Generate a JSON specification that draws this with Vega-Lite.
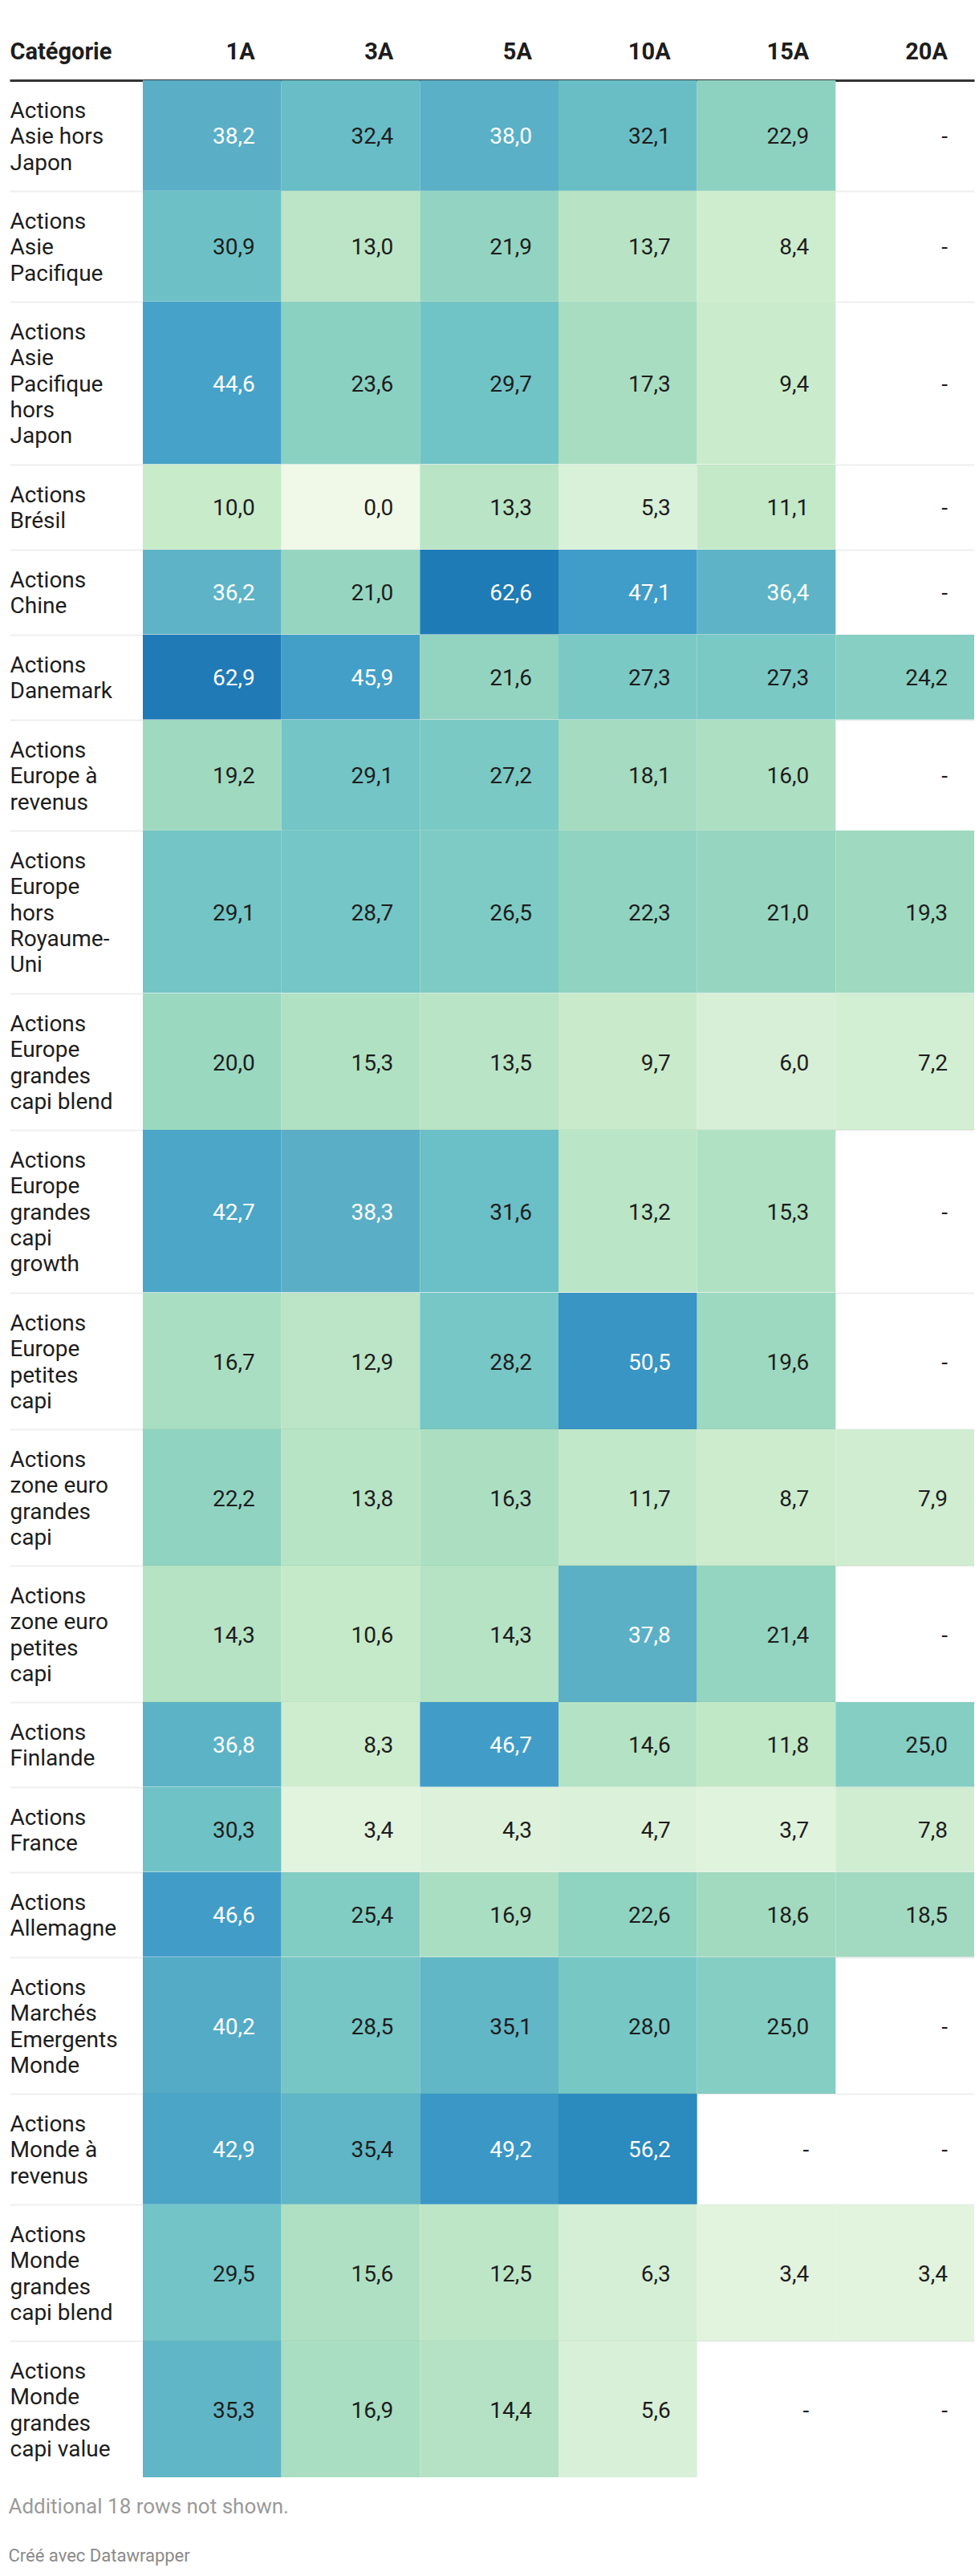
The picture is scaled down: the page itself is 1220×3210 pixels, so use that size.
{
"$schema": "https://vega.github.io/schema/vega-lite/v6.json",
"background": "white",
"padding": {"left": 10, "top": 30, "right": 8, "bottom": 10},
"spacing": 0,
"bounds": "flush",
"resolve": {"scale": {"x": "independent", "y": "independent", "color": "independent"}},
"title": {"text": "Additional 18 rows not shown.", "subtitle": "Créé avec Datawrapper", "orient": "bottom", "anchor": "start", "frame": "bounds", "font": "Roboto", "fontSize": 26, "fontWeight": "normal", "color": "#9a9a9a", "subtitleFont": "Roboto", "subtitleFontSize": 22, "subtitleColor": "#8a8a8a", "offset": 24, "subtitlePadding": 38},
"config": {
  "view": {"stroke": null, "fill": "white"},
  "locale": {"number": {"decimal": ",", "thousands": " ", "grouping": [3], "currency": ["", " €"]}},
  "text": {"font": "Roboto"},
  "axisY": {"domain": false, "ticks": true, "tickSize": 166, "tickBand": "extent", "grid": true, "gridWidth": 2, "tickWidth": 2, "gridColor": "rgba(0,0,0,0.067)", "tickColor": "rgba(0,0,0,0.067)", "labelAlign": "left", "labelBaseline": "middle", "labelPadding": 0, "labelFont": "Roboto", "labelFontSize": 28, "labelColor": "#1d1d1d", "labelLineHeight": 32.2, "labelLimit": 400, "zindex": 1, "minExtent": 0, "maxExtent": 400, "labelOverlap": false, "labelBound": false}
},
"datasets": {"t": [
{"c":"Actions Asie hors Japon","p":"1A","v":38.2},{"c":"Actions Asie hors Japon","p":"3A","v":32.4},{"c":"Actions Asie hors Japon","p":"5A","v":38.0},{"c":"Actions Asie hors Japon","p":"10A","v":32.1},{"c":"Actions Asie hors Japon","p":"15A","v":22.9},{"c":"Actions Asie hors Japon","p":"20A","v":null},
{"c":"Actions Asie Pacifique","p":"1A","v":30.9},{"c":"Actions Asie Pacifique","p":"3A","v":13.0},{"c":"Actions Asie Pacifique","p":"5A","v":21.9},{"c":"Actions Asie Pacifique","p":"10A","v":13.7},{"c":"Actions Asie Pacifique","p":"15A","v":8.4},{"c":"Actions Asie Pacifique","p":"20A","v":null},
{"c":"Actions Asie Pacifique hors Japon","p":"1A","v":44.6},{"c":"Actions Asie Pacifique hors Japon","p":"3A","v":23.6},{"c":"Actions Asie Pacifique hors Japon","p":"5A","v":29.7},{"c":"Actions Asie Pacifique hors Japon","p":"10A","v":17.3},{"c":"Actions Asie Pacifique hors Japon","p":"15A","v":9.4},{"c":"Actions Asie Pacifique hors Japon","p":"20A","v":null},
{"c":"Actions Brésil","p":"1A","v":10.0},{"c":"Actions Brésil","p":"3A","v":0.0},{"c":"Actions Brésil","p":"5A","v":13.3},{"c":"Actions Brésil","p":"10A","v":5.3},{"c":"Actions Brésil","p":"15A","v":11.1},{"c":"Actions Brésil","p":"20A","v":null},
{"c":"Actions Chine","p":"1A","v":36.2},{"c":"Actions Chine","p":"3A","v":21.0},{"c":"Actions Chine","p":"5A","v":62.6},{"c":"Actions Chine","p":"10A","v":47.1},{"c":"Actions Chine","p":"15A","v":36.4},{"c":"Actions Chine","p":"20A","v":null},
{"c":"Actions Danemark","p":"1A","v":62.9},{"c":"Actions Danemark","p":"3A","v":45.9},{"c":"Actions Danemark","p":"5A","v":21.6},{"c":"Actions Danemark","p":"10A","v":27.3},{"c":"Actions Danemark","p":"15A","v":27.3},{"c":"Actions Danemark","p":"20A","v":24.2},
{"c":"Actions Europe à revenus","p":"1A","v":19.2},{"c":"Actions Europe à revenus","p":"3A","v":29.1},{"c":"Actions Europe à revenus","p":"5A","v":27.2},{"c":"Actions Europe à revenus","p":"10A","v":18.1},{"c":"Actions Europe à revenus","p":"15A","v":16.0},{"c":"Actions Europe à revenus","p":"20A","v":null},
{"c":"Actions Europe hors Royaume-Uni","p":"1A","v":29.1},{"c":"Actions Europe hors Royaume-Uni","p":"3A","v":28.7},{"c":"Actions Europe hors Royaume-Uni","p":"5A","v":26.5},{"c":"Actions Europe hors Royaume-Uni","p":"10A","v":22.3},{"c":"Actions Europe hors Royaume-Uni","p":"15A","v":21.0},{"c":"Actions Europe hors Royaume-Uni","p":"20A","v":19.3},
{"c":"Actions Europe grandes capi blend","p":"1A","v":20.0},{"c":"Actions Europe grandes capi blend","p":"3A","v":15.3},{"c":"Actions Europe grandes capi blend","p":"5A","v":13.5},{"c":"Actions Europe grandes capi blend","p":"10A","v":9.7},{"c":"Actions Europe grandes capi blend","p":"15A","v":6.0},{"c":"Actions Europe grandes capi blend","p":"20A","v":7.2},
{"c":"Actions Europe grandes capi growth","p":"1A","v":42.7},{"c":"Actions Europe grandes capi growth","p":"3A","v":38.3},{"c":"Actions Europe grandes capi growth","p":"5A","v":31.6},{"c":"Actions Europe grandes capi growth","p":"10A","v":13.2},{"c":"Actions Europe grandes capi growth","p":"15A","v":15.3},{"c":"Actions Europe grandes capi growth","p":"20A","v":null},
{"c":"Actions Europe petites capi","p":"1A","v":16.7},{"c":"Actions Europe petites capi","p":"3A","v":12.9},{"c":"Actions Europe petites capi","p":"5A","v":28.2},{"c":"Actions Europe petites capi","p":"10A","v":50.5},{"c":"Actions Europe petites capi","p":"15A","v":19.6},{"c":"Actions Europe petites capi","p":"20A","v":null},
{"c":"Actions zone euro grandes capi","p":"1A","v":22.2},{"c":"Actions zone euro grandes capi","p":"3A","v":13.8},{"c":"Actions zone euro grandes capi","p":"5A","v":16.3},{"c":"Actions zone euro grandes capi","p":"10A","v":11.7},{"c":"Actions zone euro grandes capi","p":"15A","v":8.7},{"c":"Actions zone euro grandes capi","p":"20A","v":7.9},
{"c":"Actions zone euro petites capi","p":"1A","v":14.3},{"c":"Actions zone euro petites capi","p":"3A","v":10.6},{"c":"Actions zone euro petites capi","p":"5A","v":14.3},{"c":"Actions zone euro petites capi","p":"10A","v":37.8},{"c":"Actions zone euro petites capi","p":"15A","v":21.4},{"c":"Actions zone euro petites capi","p":"20A","v":null},
{"c":"Actions Finlande","p":"1A","v":36.8},{"c":"Actions Finlande","p":"3A","v":8.3},{"c":"Actions Finlande","p":"5A","v":46.7},{"c":"Actions Finlande","p":"10A","v":14.6},{"c":"Actions Finlande","p":"15A","v":11.8},{"c":"Actions Finlande","p":"20A","v":25.0},
{"c":"Actions France","p":"1A","v":30.3},{"c":"Actions France","p":"3A","v":3.4},{"c":"Actions France","p":"5A","v":4.3},{"c":"Actions France","p":"10A","v":4.7},{"c":"Actions France","p":"15A","v":3.7},{"c":"Actions France","p":"20A","v":7.8},
{"c":"Actions Allemagne","p":"1A","v":46.6},{"c":"Actions Allemagne","p":"3A","v":25.4},{"c":"Actions Allemagne","p":"5A","v":16.9},{"c":"Actions Allemagne","p":"10A","v":22.6},{"c":"Actions Allemagne","p":"15A","v":18.6},{"c":"Actions Allemagne","p":"20A","v":18.5},
{"c":"Actions Marchés Emergents Monde","p":"1A","v":40.2},{"c":"Actions Marchés Emergents Monde","p":"3A","v":28.5},{"c":"Actions Marchés Emergents Monde","p":"5A","v":35.1},{"c":"Actions Marchés Emergents Monde","p":"10A","v":28.0},{"c":"Actions Marchés Emergents Monde","p":"15A","v":25.0},{"c":"Actions Marchés Emergents Monde","p":"20A","v":null},
{"c":"Actions Monde à revenus","p":"1A","v":42.9},{"c":"Actions Monde à revenus","p":"3A","v":35.4},{"c":"Actions Monde à revenus","p":"5A","v":49.2},{"c":"Actions Monde à revenus","p":"10A","v":56.2},{"c":"Actions Monde à revenus","p":"15A","v":null},{"c":"Actions Monde à revenus","p":"20A","v":null},
{"c":"Actions Monde grandes capi blend","p":"1A","v":29.5},{"c":"Actions Monde grandes capi blend","p":"3A","v":15.6},{"c":"Actions Monde grandes capi blend","p":"5A","v":12.5},{"c":"Actions Monde grandes capi blend","p":"10A","v":6.3},{"c":"Actions Monde grandes capi blend","p":"15A","v":3.4},{"c":"Actions Monde grandes capi blend","p":"20A","v":3.4},
{"c":"Actions Monde grandes capi value","p":"1A","v":35.3},{"c":"Actions Monde grandes capi value","p":"3A","v":16.9},{"c":"Actions Monde grandes capi value","p":"5A","v":14.4},{"c":"Actions Monde grandes capi value","p":"10A","v":5.6},{"c":"Actions Monde grandes capi value","p":"15A","v":null},{"c":"Actions Monde grandes capi value","p":"20A","v":null}
]},
"data": {"name": "t"},
"vconcat": [
{"height": 70, "width": 1036, "transform": [{"filter": {"field": "c", "equal": "Actions Asie hors Japon"}}],
 "mark": {"type": "text", "align": "right", "baseline": "middle", "dx": 53.3, "font": "Roboto", "fontSize": 29, "fontWeight": "bold", "color": "#1d1d1d"},
 "encoding": {"x": {"field": "p", "type": "nominal", "scale": {"domain": ["1A","3A","5A","10A","15A","20A"], "paddingInner": 0, "paddingOuter": 0}, "axis": null},
  "y": {"datum": "Catégorie", "type": "nominal", "title": null, "axis": {"ticks": false, "tickBand": "center", "grid": false, "labelPadding": 166, "labelFontWeight": "bold", "labelFontSize": 29, "labelOffset": 0}},
  "text": {"field": "p"}}},

{"height": 137.8, "width": 1036, "transform": [{"filter": {"field": "c", "equal": "Actions Asie hors Japon"}}],
 "encoding": {"x": {"field": "p", "type": "nominal", "scale": {"domain": ["1A","3A","5A","10A","15A","20A"], "paddingInner": 0, "paddingOuter": 0}, "axis": null},
  "y": {"field": "c", "type": "nominal", "title": null, "axis": {"labelOffset": -30.2, "labelExpr": "datum.extra ? '' : ['Actions','Asie hors','Japon']", "gridColor": "#333333", "tickColor": "#333333", "gridWidth": 3, "tickWidth": 3, "gridOpacity": {"condition": {"test": "datum.extra", "value": 1}, "value": 0}, "tickOpacity": {"condition": {"test": "datum.extra", "value": 1}, "value": 0}}}},
 "layer": [
  {"transform": [{"filter": "isValid(datum.v)"}], "mark": {"type": "rect"}, "encoding": {"color": {"field": "v", "type": "quantitative", "legend": null, "scale": {"type": "linear", "domain": [0,5.3,10,19.2,29.1,38.2,47.1,56.2,62.9], "range": ["#f0f9e8","#d9f0d9","#c8ebca","#9fd9c0","#73c5c6","#5aafc6","#409cc8","#2b8abe","#1f7ab6"]}}}},
  {"mark": {"type": "text", "align": "right", "baseline": "middle", "dx": 53.3, "dy": 2.5, "font": "Roboto", "fontSize": 28}, "encoding": {"text": {"condition": {"test": "!isValid(datum.v)", "value": "-"}, "field": "v", "type": "quantitative", "format": ".1f"}, "color": {"condition": {"test": "datum.v >= 36", "value": "#ffffff"}, "value": "#1d1d1d"}}}
 ]},

{"height": 137.8, "width": 1036, "transform": [{"filter": {"field": "c", "equal": "Actions Asie Pacifique"}}],
 "encoding": {"x": {"field": "p", "type": "nominal", "scale": {"domain": ["1A","3A","5A","10A","15A","20A"], "paddingInner": 0, "paddingOuter": 0}, "axis": null},
  "y": {"field": "c", "type": "nominal", "title": null, "axis": {"labelOffset": -30.2, "labelExpr": "datum.extra ? '' : ['Actions','Asie','Pacifique']", "gridOpacity": {"condition": {"test": "datum.extra", "value": 1}, "value": 0}, "tickOpacity": {"condition": {"test": "datum.extra", "value": 1}, "value": 0}}}},
 "layer": [
  {"transform": [{"filter": "isValid(datum.v)"}], "mark": {"type": "rect"}, "encoding": {"color": {"field": "v", "type": "quantitative", "legend": null, "scale": {"type": "linear", "domain": [0,5.3,10,19.2,29.1,38.2,47.1,56.2,62.9], "range": ["#f0f9e8","#d9f0d9","#c8ebca","#9fd9c0","#73c5c6","#5aafc6","#409cc8","#2b8abe","#1f7ab6"]}}}},
  {"mark": {"type": "text", "align": "right", "baseline": "middle", "dx": 53.3, "dy": 2.5, "font": "Roboto", "fontSize": 28}, "encoding": {"text": {"condition": {"test": "!isValid(datum.v)", "value": "-"}, "field": "v", "type": "quantitative", "format": ".1f"}, "color": {"condition": {"test": "datum.v >= 36", "value": "#ffffff"}, "value": "#1d1d1d"}}}
 ]},

{"height": 202.2, "width": 1036, "transform": [{"filter": {"field": "c", "equal": "Actions Asie Pacifique hors Japon"}}],
 "encoding": {"x": {"field": "p", "type": "nominal", "scale": {"domain": ["1A","3A","5A","10A","15A","20A"], "paddingInner": 0, "paddingOuter": 0}, "axis": null},
  "y": {"field": "c", "type": "nominal", "title": null, "axis": {"labelOffset": -62.4, "labelExpr": "datum.extra ? '' : ['Actions','Asie','Pacifique','hors','Japon']", "gridOpacity": {"condition": {"test": "datum.extra", "value": 1}, "value": 0}, "tickOpacity": {"condition": {"test": "datum.extra", "value": 1}, "value": 0}}}},
 "layer": [
  {"transform": [{"filter": "isValid(datum.v)"}], "mark": {"type": "rect"}, "encoding": {"color": {"field": "v", "type": "quantitative", "legend": null, "scale": {"type": "linear", "domain": [0,5.3,10,19.2,29.1,38.2,47.1,56.2,62.9], "range": ["#f0f9e8","#d9f0d9","#c8ebca","#9fd9c0","#73c5c6","#5aafc6","#409cc8","#2b8abe","#1f7ab6"]}}}},
  {"mark": {"type": "text", "align": "right", "baseline": "middle", "dx": 53.3, "dy": 2.5, "font": "Roboto", "fontSize": 28}, "encoding": {"text": {"condition": {"test": "!isValid(datum.v)", "value": "-"}, "field": "v", "type": "quantitative", "format": ".1f"}, "color": {"condition": {"test": "datum.v >= 36", "value": "#ffffff"}, "value": "#1d1d1d"}}}
 ]},

{"height": 105.6, "width": 1036, "transform": [{"filter": {"field": "c", "equal": "Actions Brésil"}}],
 "encoding": {"x": {"field": "p", "type": "nominal", "scale": {"domain": ["1A","3A","5A","10A","15A","20A"], "paddingInner": 0, "paddingOuter": 0}, "axis": null},
  "y": {"field": "c", "type": "nominal", "title": null, "axis": {"labelOffset": -14.1, "labelExpr": "datum.extra ? '' : ['Actions','Brésil']", "gridOpacity": {"condition": {"test": "datum.extra", "value": 1}, "value": 0}, "tickOpacity": {"condition": {"test": "datum.extra", "value": 1}, "value": 0}}}},
 "layer": [
  {"transform": [{"filter": "isValid(datum.v)"}], "mark": {"type": "rect"}, "encoding": {"color": {"field": "v", "type": "quantitative", "legend": null, "scale": {"type": "linear", "domain": [0,5.3,10,19.2,29.1,38.2,47.1,56.2,62.9], "range": ["#f0f9e8","#d9f0d9","#c8ebca","#9fd9c0","#73c5c6","#5aafc6","#409cc8","#2b8abe","#1f7ab6"]}}}},
  {"mark": {"type": "text", "align": "right", "baseline": "middle", "dx": 53.3, "dy": 2.5, "font": "Roboto", "fontSize": 28}, "encoding": {"text": {"condition": {"test": "!isValid(datum.v)", "value": "-"}, "field": "v", "type": "quantitative", "format": ".1f"}, "color": {"condition": {"test": "datum.v >= 36", "value": "#ffffff"}, "value": "#1d1d1d"}}}
 ]},

{"height": 105.6, "width": 1036, "transform": [{"filter": {"field": "c", "equal": "Actions Chine"}}],
 "encoding": {"x": {"field": "p", "type": "nominal", "scale": {"domain": ["1A","3A","5A","10A","15A","20A"], "paddingInner": 0, "paddingOuter": 0}, "axis": null},
  "y": {"field": "c", "type": "nominal", "title": null, "axis": {"labelOffset": -14.1, "labelExpr": "datum.extra ? '' : ['Actions','Chine']", "gridOpacity": {"condition": {"test": "datum.extra", "value": 1}, "value": 0}, "tickOpacity": {"condition": {"test": "datum.extra", "value": 1}, "value": 0}}}},
 "layer": [
  {"transform": [{"filter": "isValid(datum.v)"}], "mark": {"type": "rect"}, "encoding": {"color": {"field": "v", "type": "quantitative", "legend": null, "scale": {"type": "linear", "domain": [0,5.3,10,19.2,29.1,38.2,47.1,56.2,62.9], "range": ["#f0f9e8","#d9f0d9","#c8ebca","#9fd9c0","#73c5c6","#5aafc6","#409cc8","#2b8abe","#1f7ab6"]}}}},
  {"mark": {"type": "text", "align": "right", "baseline": "middle", "dx": 53.3, "dy": 2.5, "font": "Roboto", "fontSize": 28}, "encoding": {"text": {"condition": {"test": "!isValid(datum.v)", "value": "-"}, "field": "v", "type": "quantitative", "format": ".1f"}, "color": {"condition": {"test": "datum.v >= 36", "value": "#ffffff"}, "value": "#1d1d1d"}}}
 ]},

{"height": 105.6, "width": 1036, "transform": [{"filter": {"field": "c", "equal": "Actions Danemark"}}],
 "encoding": {"x": {"field": "p", "type": "nominal", "scale": {"domain": ["1A","3A","5A","10A","15A","20A"], "paddingInner": 0, "paddingOuter": 0}, "axis": null},
  "y": {"field": "c", "type": "nominal", "title": null, "axis": {"labelOffset": -14.1, "labelExpr": "datum.extra ? '' : ['Actions','Danemark']", "gridOpacity": {"condition": {"test": "datum.extra", "value": 1}, "value": 0}, "tickOpacity": {"condition": {"test": "datum.extra", "value": 1}, "value": 0}}}},
 "layer": [
  {"transform": [{"filter": "isValid(datum.v)"}], "mark": {"type": "rect"}, "encoding": {"color": {"field": "v", "type": "quantitative", "legend": null, "scale": {"type": "linear", "domain": [0,5.3,10,19.2,29.1,38.2,47.1,56.2,62.9], "range": ["#f0f9e8","#d9f0d9","#c8ebca","#9fd9c0","#73c5c6","#5aafc6","#409cc8","#2b8abe","#1f7ab6"]}}}},
  {"mark": {"type": "text", "align": "right", "baseline": "middle", "dx": 53.3, "dy": 2.5, "font": "Roboto", "fontSize": 28}, "encoding": {"text": {"condition": {"test": "!isValid(datum.v)", "value": "-"}, "field": "v", "type": "quantitative", "format": ".1f"}, "color": {"condition": {"test": "datum.v >= 36", "value": "#ffffff"}, "value": "#1d1d1d"}}}
 ]},

{"height": 137.8, "width": 1036, "transform": [{"filter": {"field": "c", "equal": "Actions Europe à revenus"}}],
 "encoding": {"x": {"field": "p", "type": "nominal", "scale": {"domain": ["1A","3A","5A","10A","15A","20A"], "paddingInner": 0, "paddingOuter": 0}, "axis": null},
  "y": {"field": "c", "type": "nominal", "title": null, "axis": {"labelOffset": -30.2, "labelExpr": "datum.extra ? '' : ['Actions','Europe à','revenus']", "gridOpacity": {"condition": {"test": "datum.extra", "value": 1}, "value": 0}, "tickOpacity": {"condition": {"test": "datum.extra", "value": 1}, "value": 0}}}},
 "layer": [
  {"transform": [{"filter": "isValid(datum.v)"}], "mark": {"type": "rect"}, "encoding": {"color": {"field": "v", "type": "quantitative", "legend": null, "scale": {"type": "linear", "domain": [0,5.3,10,19.2,29.1,38.2,47.1,56.2,62.9], "range": ["#f0f9e8","#d9f0d9","#c8ebca","#9fd9c0","#73c5c6","#5aafc6","#409cc8","#2b8abe","#1f7ab6"]}}}},
  {"mark": {"type": "text", "align": "right", "baseline": "middle", "dx": 53.3, "dy": 2.5, "font": "Roboto", "fontSize": 28}, "encoding": {"text": {"condition": {"test": "!isValid(datum.v)", "value": "-"}, "field": "v", "type": "quantitative", "format": ".1f"}, "color": {"condition": {"test": "datum.v >= 36", "value": "#ffffff"}, "value": "#1d1d1d"}}}
 ]},

{"height": 202.2, "width": 1036, "transform": [{"filter": {"field": "c", "equal": "Actions Europe hors Royaume-Uni"}}],
 "encoding": {"x": {"field": "p", "type": "nominal", "scale": {"domain": ["1A","3A","5A","10A","15A","20A"], "paddingInner": 0, "paddingOuter": 0}, "axis": null},
  "y": {"field": "c", "type": "nominal", "title": null, "axis": {"labelOffset": -62.4, "labelExpr": "datum.extra ? '' : ['Actions','Europe','hors','Royaume-','Uni']", "gridOpacity": {"condition": {"test": "datum.extra", "value": 1}, "value": 0}, "tickOpacity": {"condition": {"test": "datum.extra", "value": 1}, "value": 0}}}},
 "layer": [
  {"transform": [{"filter": "isValid(datum.v)"}], "mark": {"type": "rect"}, "encoding": {"color": {"field": "v", "type": "quantitative", "legend": null, "scale": {"type": "linear", "domain": [0,5.3,10,19.2,29.1,38.2,47.1,56.2,62.9], "range": ["#f0f9e8","#d9f0d9","#c8ebca","#9fd9c0","#73c5c6","#5aafc6","#409cc8","#2b8abe","#1f7ab6"]}}}},
  {"mark": {"type": "text", "align": "right", "baseline": "middle", "dx": 53.3, "dy": 2.5, "font": "Roboto", "fontSize": 28}, "encoding": {"text": {"condition": {"test": "!isValid(datum.v)", "value": "-"}, "field": "v", "type": "quantitative", "format": ".1f"}, "color": {"condition": {"test": "datum.v >= 36", "value": "#ffffff"}, "value": "#1d1d1d"}}}
 ]},

{"height": 170, "width": 1036, "transform": [{"filter": {"field": "c", "equal": "Actions Europe grandes capi blend"}}],
 "encoding": {"x": {"field": "p", "type": "nominal", "scale": {"domain": ["1A","3A","5A","10A","15A","20A"], "paddingInner": 0, "paddingOuter": 0}, "axis": null},
  "y": {"field": "c", "type": "nominal", "title": null, "axis": {"labelOffset": -46.3, "labelExpr": "datum.extra ? '' : ['Actions','Europe','grandes','capi blend']", "gridOpacity": {"condition": {"test": "datum.extra", "value": 1}, "value": 0}, "tickOpacity": {"condition": {"test": "datum.extra", "value": 1}, "value": 0}}}},
 "layer": [
  {"transform": [{"filter": "isValid(datum.v)"}], "mark": {"type": "rect"}, "encoding": {"color": {"field": "v", "type": "quantitative", "legend": null, "scale": {"type": "linear", "domain": [0,5.3,10,19.2,29.1,38.2,47.1,56.2,62.9], "range": ["#f0f9e8","#d9f0d9","#c8ebca","#9fd9c0","#73c5c6","#5aafc6","#409cc8","#2b8abe","#1f7ab6"]}}}},
  {"mark": {"type": "text", "align": "right", "baseline": "middle", "dx": 53.3, "dy": 2.5, "font": "Roboto", "fontSize": 28}, "encoding": {"text": {"condition": {"test": "!isValid(datum.v)", "value": "-"}, "field": "v", "type": "quantitative", "format": ".1f"}, "color": {"condition": {"test": "datum.v >= 36", "value": "#ffffff"}, "value": "#1d1d1d"}}}
 ]},

{"height": 202.2, "width": 1036, "transform": [{"filter": {"field": "c", "equal": "Actions Europe grandes capi growth"}}],
 "encoding": {"x": {"field": "p", "type": "nominal", "scale": {"domain": ["1A","3A","5A","10A","15A","20A"], "paddingInner": 0, "paddingOuter": 0}, "axis": null},
  "y": {"field": "c", "type": "nominal", "title": null, "axis": {"labelOffset": -62.4, "labelExpr": "datum.extra ? '' : ['Actions','Europe','grandes','capi','growth']", "gridOpacity": {"condition": {"test": "datum.extra", "value": 1}, "value": 0}, "tickOpacity": {"condition": {"test": "datum.extra", "value": 1}, "value": 0}}}},
 "layer": [
  {"transform": [{"filter": "isValid(datum.v)"}], "mark": {"type": "rect"}, "encoding": {"color": {"field": "v", "type": "quantitative", "legend": null, "scale": {"type": "linear", "domain": [0,5.3,10,19.2,29.1,38.2,47.1,56.2,62.9], "range": ["#f0f9e8","#d9f0d9","#c8ebca","#9fd9c0","#73c5c6","#5aafc6","#409cc8","#2b8abe","#1f7ab6"]}}}},
  {"mark": {"type": "text", "align": "right", "baseline": "middle", "dx": 53.3, "dy": 2.5, "font": "Roboto", "fontSize": 28}, "encoding": {"text": {"condition": {"test": "!isValid(datum.v)", "value": "-"}, "field": "v", "type": "quantitative", "format": ".1f"}, "color": {"condition": {"test": "datum.v >= 36", "value": "#ffffff"}, "value": "#1d1d1d"}}}
 ]},

{"height": 170, "width": 1036, "transform": [{"filter": {"field": "c", "equal": "Actions Europe petites capi"}}],
 "encoding": {"x": {"field": "p", "type": "nominal", "scale": {"domain": ["1A","3A","5A","10A","15A","20A"], "paddingInner": 0, "paddingOuter": 0}, "axis": null},
  "y": {"field": "c", "type": "nominal", "title": null, "axis": {"labelOffset": -46.3, "labelExpr": "datum.extra ? '' : ['Actions','Europe','petites','capi']", "gridOpacity": {"condition": {"test": "datum.extra", "value": 1}, "value": 0}, "tickOpacity": {"condition": {"test": "datum.extra", "value": 1}, "value": 0}}}},
 "layer": [
  {"transform": [{"filter": "isValid(datum.v)"}], "mark": {"type": "rect"}, "encoding": {"color": {"field": "v", "type": "quantitative", "legend": null, "scale": {"type": "linear", "domain": [0,5.3,10,19.2,29.1,38.2,47.1,56.2,62.9], "range": ["#f0f9e8","#d9f0d9","#c8ebca","#9fd9c0","#73c5c6","#5aafc6","#409cc8","#2b8abe","#1f7ab6"]}}}},
  {"mark": {"type": "text", "align": "right", "baseline": "middle", "dx": 53.3, "dy": 2.5, "font": "Roboto", "fontSize": 28}, "encoding": {"text": {"condition": {"test": "!isValid(datum.v)", "value": "-"}, "field": "v", "type": "quantitative", "format": ".1f"}, "color": {"condition": {"test": "datum.v >= 36", "value": "#ffffff"}, "value": "#1d1d1d"}}}
 ]},

{"height": 170, "width": 1036, "transform": [{"filter": {"field": "c", "equal": "Actions zone euro grandes capi"}}],
 "encoding": {"x": {"field": "p", "type": "nominal", "scale": {"domain": ["1A","3A","5A","10A","15A","20A"], "paddingInner": 0, "paddingOuter": 0}, "axis": null},
  "y": {"field": "c", "type": "nominal", "title": null, "axis": {"labelOffset": -46.3, "labelExpr": "datum.extra ? '' : ['Actions','zone euro','grandes','capi']", "gridOpacity": {"condition": {"test": "datum.extra", "value": 1}, "value": 0}, "tickOpacity": {"condition": {"test": "datum.extra", "value": 1}, "value": 0}}}},
 "layer": [
  {"transform": [{"filter": "isValid(datum.v)"}], "mark": {"type": "rect"}, "encoding": {"color": {"field": "v", "type": "quantitative", "legend": null, "scale": {"type": "linear", "domain": [0,5.3,10,19.2,29.1,38.2,47.1,56.2,62.9], "range": ["#f0f9e8","#d9f0d9","#c8ebca","#9fd9c0","#73c5c6","#5aafc6","#409cc8","#2b8abe","#1f7ab6"]}}}},
  {"mark": {"type": "text", "align": "right", "baseline": "middle", "dx": 53.3, "dy": 2.5, "font": "Roboto", "fontSize": 28}, "encoding": {"text": {"condition": {"test": "!isValid(datum.v)", "value": "-"}, "field": "v", "type": "quantitative", "format": ".1f"}, "color": {"condition": {"test": "datum.v >= 36", "value": "#ffffff"}, "value": "#1d1d1d"}}}
 ]},

{"height": 170, "width": 1036, "transform": [{"filter": {"field": "c", "equal": "Actions zone euro petites capi"}}],
 "encoding": {"x": {"field": "p", "type": "nominal", "scale": {"domain": ["1A","3A","5A","10A","15A","20A"], "paddingInner": 0, "paddingOuter": 0}, "axis": null},
  "y": {"field": "c", "type": "nominal", "title": null, "axis": {"labelOffset": -46.3, "labelExpr": "datum.extra ? '' : ['Actions','zone euro','petites','capi']", "gridOpacity": {"condition": {"test": "datum.extra", "value": 1}, "value": 0}, "tickOpacity": {"condition": {"test": "datum.extra", "value": 1}, "value": 0}}}},
 "layer": [
  {"transform": [{"filter": "isValid(datum.v)"}], "mark": {"type": "rect"}, "encoding": {"color": {"field": "v", "type": "quantitative", "legend": null, "scale": {"type": "linear", "domain": [0,5.3,10,19.2,29.1,38.2,47.1,56.2,62.9], "range": ["#f0f9e8","#d9f0d9","#c8ebca","#9fd9c0","#73c5c6","#5aafc6","#409cc8","#2b8abe","#1f7ab6"]}}}},
  {"mark": {"type": "text", "align": "right", "baseline": "middle", "dx": 53.3, "dy": 2.5, "font": "Roboto", "fontSize": 28}, "encoding": {"text": {"condition": {"test": "!isValid(datum.v)", "value": "-"}, "field": "v", "type": "quantitative", "format": ".1f"}, "color": {"condition": {"test": "datum.v >= 36", "value": "#ffffff"}, "value": "#1d1d1d"}}}
 ]},

{"height": 105.6, "width": 1036, "transform": [{"filter": {"field": "c", "equal": "Actions Finlande"}}],
 "encoding": {"x": {"field": "p", "type": "nominal", "scale": {"domain": ["1A","3A","5A","10A","15A","20A"], "paddingInner": 0, "paddingOuter": 0}, "axis": null},
  "y": {"field": "c", "type": "nominal", "title": null, "axis": {"labelOffset": -14.1, "labelExpr": "datum.extra ? '' : ['Actions','Finlande']", "gridOpacity": {"condition": {"test": "datum.extra", "value": 1}, "value": 0}, "tickOpacity": {"condition": {"test": "datum.extra", "value": 1}, "value": 0}}}},
 "layer": [
  {"transform": [{"filter": "isValid(datum.v)"}], "mark": {"type": "rect"}, "encoding": {"color": {"field": "v", "type": "quantitative", "legend": null, "scale": {"type": "linear", "domain": [0,5.3,10,19.2,29.1,38.2,47.1,56.2,62.9], "range": ["#f0f9e8","#d9f0d9","#c8ebca","#9fd9c0","#73c5c6","#5aafc6","#409cc8","#2b8abe","#1f7ab6"]}}}},
  {"mark": {"type": "text", "align": "right", "baseline": "middle", "dx": 53.3, "dy": 2.5, "font": "Roboto", "fontSize": 28}, "encoding": {"text": {"condition": {"test": "!isValid(datum.v)", "value": "-"}, "field": "v", "type": "quantitative", "format": ".1f"}, "color": {"condition": {"test": "datum.v >= 36", "value": "#ffffff"}, "value": "#1d1d1d"}}}
 ]},

{"height": 105.6, "width": 1036, "transform": [{"filter": {"field": "c", "equal": "Actions France"}}],
 "encoding": {"x": {"field": "p", "type": "nominal", "scale": {"domain": ["1A","3A","5A","10A","15A","20A"], "paddingInner": 0, "paddingOuter": 0}, "axis": null},
  "y": {"field": "c", "type": "nominal", "title": null, "axis": {"labelOffset": -14.1, "labelExpr": "datum.extra ? '' : ['Actions','France']", "gridOpacity": {"condition": {"test": "datum.extra", "value": 1}, "value": 0}, "tickOpacity": {"condition": {"test": "datum.extra", "value": 1}, "value": 0}}}},
 "layer": [
  {"transform": [{"filter": "isValid(datum.v)"}], "mark": {"type": "rect"}, "encoding": {"color": {"field": "v", "type": "quantitative", "legend": null, "scale": {"type": "linear", "domain": [0,5.3,10,19.2,29.1,38.2,47.1,56.2,62.9], "range": ["#f0f9e8","#d9f0d9","#c8ebca","#9fd9c0","#73c5c6","#5aafc6","#409cc8","#2b8abe","#1f7ab6"]}}}},
  {"mark": {"type": "text", "align": "right", "baseline": "middle", "dx": 53.3, "dy": 2.5, "font": "Roboto", "fontSize": 28}, "encoding": {"text": {"condition": {"test": "!isValid(datum.v)", "value": "-"}, "field": "v", "type": "quantitative", "format": ".1f"}, "color": {"condition": {"test": "datum.v >= 36", "value": "#ffffff"}, "value": "#1d1d1d"}}}
 ]},

{"height": 105.6, "width": 1036, "transform": [{"filter": {"field": "c", "equal": "Actions Allemagne"}}],
 "encoding": {"x": {"field": "p", "type": "nominal", "scale": {"domain": ["1A","3A","5A","10A","15A","20A"], "paddingInner": 0, "paddingOuter": 0}, "axis": null},
  "y": {"field": "c", "type": "nominal", "title": null, "axis": {"labelOffset": -14.1, "labelExpr": "datum.extra ? '' : ['Actions','Allemagne']", "gridOpacity": {"condition": {"test": "datum.extra", "value": 1}, "value": 0}, "tickOpacity": {"condition": {"test": "datum.extra", "value": 1}, "value": 0}}}},
 "layer": [
  {"transform": [{"filter": "isValid(datum.v)"}], "mark": {"type": "rect"}, "encoding": {"color": {"field": "v", "type": "quantitative", "legend": null, "scale": {"type": "linear", "domain": [0,5.3,10,19.2,29.1,38.2,47.1,56.2,62.9], "range": ["#f0f9e8","#d9f0d9","#c8ebca","#9fd9c0","#73c5c6","#5aafc6","#409cc8","#2b8abe","#1f7ab6"]}}}},
  {"mark": {"type": "text", "align": "right", "baseline": "middle", "dx": 53.3, "dy": 2.5, "font": "Roboto", "fontSize": 28}, "encoding": {"text": {"condition": {"test": "!isValid(datum.v)", "value": "-"}, "field": "v", "type": "quantitative", "format": ".1f"}, "color": {"condition": {"test": "datum.v >= 36", "value": "#ffffff"}, "value": "#1d1d1d"}}}
 ]},

{"height": 170, "width": 1036, "transform": [{"filter": {"field": "c", "equal": "Actions Marchés Emergents Monde"}}],
 "encoding": {"x": {"field": "p", "type": "nominal", "scale": {"domain": ["1A","3A","5A","10A","15A","20A"], "paddingInner": 0, "paddingOuter": 0}, "axis": null},
  "y": {"field": "c", "type": "nominal", "title": null, "axis": {"labelOffset": -46.3, "labelExpr": "datum.extra ? '' : ['Actions','Marchés','Emergents','Monde']", "gridOpacity": {"condition": {"test": "datum.extra", "value": 1}, "value": 0}, "tickOpacity": {"condition": {"test": "datum.extra", "value": 1}, "value": 0}}}},
 "layer": [
  {"transform": [{"filter": "isValid(datum.v)"}], "mark": {"type": "rect"}, "encoding": {"color": {"field": "v", "type": "quantitative", "legend": null, "scale": {"type": "linear", "domain": [0,5.3,10,19.2,29.1,38.2,47.1,56.2,62.9], "range": ["#f0f9e8","#d9f0d9","#c8ebca","#9fd9c0","#73c5c6","#5aafc6","#409cc8","#2b8abe","#1f7ab6"]}}}},
  {"mark": {"type": "text", "align": "right", "baseline": "middle", "dx": 53.3, "dy": 2.5, "font": "Roboto", "fontSize": 28}, "encoding": {"text": {"condition": {"test": "!isValid(datum.v)", "value": "-"}, "field": "v", "type": "quantitative", "format": ".1f"}, "color": {"condition": {"test": "datum.v >= 36", "value": "#ffffff"}, "value": "#1d1d1d"}}}
 ]},

{"height": 137.8, "width": 1036, "transform": [{"filter": {"field": "c", "equal": "Actions Monde à revenus"}}],
 "encoding": {"x": {"field": "p", "type": "nominal", "scale": {"domain": ["1A","3A","5A","10A","15A","20A"], "paddingInner": 0, "paddingOuter": 0}, "axis": null},
  "y": {"field": "c", "type": "nominal", "title": null, "axis": {"labelOffset": -30.2, "labelExpr": "datum.extra ? '' : ['Actions','Monde à','revenus']", "gridOpacity": {"condition": {"test": "datum.extra", "value": 1}, "value": 0}, "tickOpacity": {"condition": {"test": "datum.extra", "value": 1}, "value": 0}}}},
 "layer": [
  {"transform": [{"filter": "isValid(datum.v)"}], "mark": {"type": "rect"}, "encoding": {"color": {"field": "v", "type": "quantitative", "legend": null, "scale": {"type": "linear", "domain": [0,5.3,10,19.2,29.1,38.2,47.1,56.2,62.9], "range": ["#f0f9e8","#d9f0d9","#c8ebca","#9fd9c0","#73c5c6","#5aafc6","#409cc8","#2b8abe","#1f7ab6"]}}}},
  {"mark": {"type": "text", "align": "right", "baseline": "middle", "dx": 53.3, "dy": 2.5, "font": "Roboto", "fontSize": 28}, "encoding": {"text": {"condition": {"test": "!isValid(datum.v)", "value": "-"}, "field": "v", "type": "quantitative", "format": ".1f"}, "color": {"condition": {"test": "datum.v >= 36", "value": "#ffffff"}, "value": "#1d1d1d"}}}
 ]},

{"height": 170, "width": 1036, "transform": [{"filter": {"field": "c", "equal": "Actions Monde grandes capi blend"}}],
 "encoding": {"x": {"field": "p", "type": "nominal", "scale": {"domain": ["1A","3A","5A","10A","15A","20A"], "paddingInner": 0, "paddingOuter": 0}, "axis": null},
  "y": {"field": "c", "type": "nominal", "title": null, "axis": {"labelOffset": -46.3, "labelExpr": "datum.extra ? '' : ['Actions','Monde','grandes','capi blend']", "gridOpacity": {"condition": {"test": "datum.extra", "value": 1}, "value": 0}, "tickOpacity": {"condition": {"test": "datum.extra", "value": 1}, "value": 0}}}},
 "layer": [
  {"transform": [{"filter": "isValid(datum.v)"}], "mark": {"type": "rect"}, "encoding": {"color": {"field": "v", "type": "quantitative", "legend": null, "scale": {"type": "linear", "domain": [0,5.3,10,19.2,29.1,38.2,47.1,56.2,62.9], "range": ["#f0f9e8","#d9f0d9","#c8ebca","#9fd9c0","#73c5c6","#5aafc6","#409cc8","#2b8abe","#1f7ab6"]}}}},
  {"mark": {"type": "text", "align": "right", "baseline": "middle", "dx": 53.3, "dy": 2.5, "font": "Roboto", "fontSize": 28}, "encoding": {"text": {"condition": {"test": "!isValid(datum.v)", "value": "-"}, "field": "v", "type": "quantitative", "format": ".1f"}, "color": {"condition": {"test": "datum.v >= 36", "value": "#ffffff"}, "value": "#1d1d1d"}}}
 ]},

{"height": 170, "width": 1036, "transform": [{"filter": {"field": "c", "equal": "Actions Monde grandes capi value"}}],
 "encoding": {"x": {"field": "p", "type": "nominal", "scale": {"domain": ["1A","3A","5A","10A","15A","20A"], "paddingInner": 0, "paddingOuter": 0}, "axis": null},
  "y": {"field": "c", "type": "nominal", "title": null, "axis": {"labelOffset": -46.3, "labelExpr": "datum.extra ? '' : ['Actions','Monde','grandes','capi value']", "gridOpacity": {"condition": {"test": "datum.extra", "value": 1}, "value": 0}, "tickOpacity": {"condition": {"test": "datum.extra", "value": 1}, "value": 0}}}},
 "layer": [
  {"transform": [{"filter": "isValid(datum.v)"}], "mark": {"type": "rect"}, "encoding": {"color": {"field": "v", "type": "quantitative", "legend": null, "scale": {"type": "linear", "domain": [0,5.3,10,19.2,29.1,38.2,47.1,56.2,62.9], "range": ["#f0f9e8","#d9f0d9","#c8ebca","#9fd9c0","#73c5c6","#5aafc6","#409cc8","#2b8abe","#1f7ab6"]}}}},
  {"mark": {"type": "text", "align": "right", "baseline": "middle", "dx": 53.3, "dy": 2.5, "font": "Roboto", "fontSize": 28}, "encoding": {"text": {"condition": {"test": "!isValid(datum.v)", "value": "-"}, "field": "v", "type": "quantitative", "format": ".1f"}, "color": {"condition": {"test": "datum.v >= 36", "value": "#ffffff"}, "value": "#1d1d1d"}}}
 ]}
]
}
